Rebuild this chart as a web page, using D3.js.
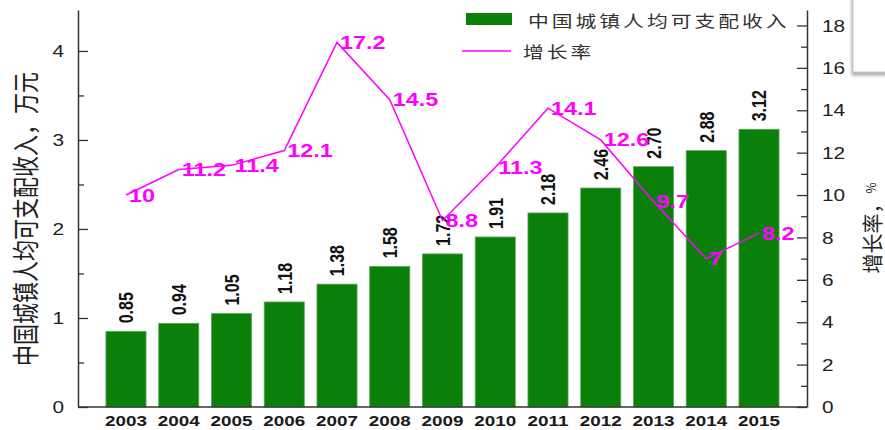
<!DOCTYPE html>
<html>
<head>
<meta charset="utf-8">
<script src="https://cdn.jsdelivr.net/npm/d3@7"></script>
<style>
  body { margin: 0; background: #fff; }
  svg { display: block; }
</style>
</head>
<body>
<div class="chart"></div>
<script>
// chart data
var years = ["2003", "2004", "2005", "2006", "2007", "2008", "2009", "2010", "2011", "2012", "2013", "2014", "2015"];
var income = [0.85, 0.94, 1.05, 1.18, 1.38, 1.58, 1.72, 1.91, 2.18, 2.46, 2.70, 2.88, 3.12];
var incomeLabels = ["0.85", "0.94", "1.05", "1.18", "1.38", "1.58", "1.72", "1.91", "2.18", "2.46", "2.70", "2.88", "3.12"];
var growth = [10, 11.2, 11.4, 12.1, 17.2, 14.5, 8.8, 11.3, 14.1, 12.6, 9.7, 7, 8.2];
var growthLabels = ["10", "11.2", "11.4", "12.1", "17.2", "14.5", "8.8", "11.3", "14.1", "12.6", "9.7", "7", "8.2"];
var leftTicks = [0, 1, 2, 3, 4];
var leftMinor = [0.5, 1.5, 2.5, 3.5];
var rightTicks = [0, 2, 4, 6, 8, 10, 12, 14, 16, 18];
var rightMinor = [1, 3, 5, 7, 9, 11, 13, 15, 17];

var svgWidth = 885;
var svgHeight = 430;

var plot = { left: 78, right: 807, top: 10, bottom: 407 };

// the reference picture is stretched sideways, so text gets the same stretch
var SX = 1.3;
var latin = "'Liberation Sans', Arial, sans-serif";
var cjk = "'Noto Sans CJK SC', 'Noto Sans', sans-serif";
var green = "#0a800a";
var magenta = "#ff00ff";

var svg = d3.select(".chart")
    .append("svg")
    .attr("width", svgWidth)
    .attr("height", svgHeight);

var defs = svg.append("defs");
var shadow = defs.append("filter").attr("id", "shadow")
    .attr("x", "-50%").attr("y", "-50%").attr("width", "200%").attr("height", "200%");
shadow.append("feDropShadow")
    .attr("dx", -1).attr("dy", 3).attr("stdDeviation", 1.5)
    .attr("flood-color", "#888").attr("flood-opacity", 0.7);

// scales
var xScale = d3.scaleBand()
    .domain(years)
    .range([plot.left, plot.right])
    .paddingInner(0.24)
    .paddingOuter(0.53);

var yLeft = d3.scaleLinear().domain([0, 4.46]).range([plot.bottom, plot.top]);
var yRight = d3.scaleLinear().domain([0, 18.73]).range([plot.bottom, plot.top]);

// bars
svg.append("g").selectAll("rect")
    .data(income)
    .enter()
    .append("rect")
    .attr("x", (d, i) => xScale(years[i]))
    .attr("y", d => yLeft(d))
    .attr("width", xScale.bandwidth())
    .attr("height", d => yLeft(0) - yLeft(d))
    .attr("fill", green)
    .attr("stroke", "#5aa85a")
    .attr("stroke-width", 0.8);

// bar value labels (rotated)
svg.append("g").selectAll("text")
    .data(income)
    .enter()
    .append("text")
    .attr("transform", (d, i) => `translate(${xScale(years[i]) + xScale.bandwidth() / 2}, ${yLeft(d) - 8}) scale(${SX},1) rotate(-90)`)
    .attr("text-anchor", "start")
    .attr("dominant-baseline", "central")
    .style("font-family", latin)
    .style("font-size", "16px")
    .style("font-weight", "bold")
    .attr("fill", "#111")
    .text((d, i) => incomeLabels[i]);

// axes
function styleAxis(g) {
    g.select(".domain").attr("stroke", "#333").attr("stroke-width", 1.5);
    g.selectAll(".tick line").attr("stroke", "#333").attr("stroke-width", 1.3);
}

var leftAxis = svg.append("g")
    .attr("transform", `translate(${plot.left},0)`)
    .call(d3.axisLeft(yLeft).tickValues(leftTicks).tickSize(-10).tickSizeOuter(0).tickFormat(d3.format("d")));
leftAxis.call(styleAxis);
leftAxis.selectAll(".tick text")
    .attr("x", null).attr("dy", null)
    .attr("transform", `translate(-14,0) scale(${SX},1)`)
    .attr("text-anchor", "end")
    .attr("dominant-baseline", "central")
    .style("font-family", latin)
    .style("font-size", "16px")
    .attr("fill", "#222");

svg.append("g")
    .attr("transform", `translate(${plot.left},0)`)
    .call(d3.axisLeft(yLeft).tickValues(leftMinor).tickSize(-6).tickSizeOuter(0).tickFormat(""))
    .call(styleAxis)
    .select(".domain").remove();

var rightAxis = svg.append("g")
    .attr("transform", `translate(${plot.right},0)`)
    .call(d3.axisRight(yRight).tickValues(rightTicks).tickSize(-10).tickSizeOuter(0).tickFormat(d3.format("d")));
rightAxis.call(styleAxis);
rightAxis.selectAll(".tick text")
    .attr("x", null).attr("dy", null)
    .attr("transform", `translate(15,0) scale(${SX},1)`)
    .attr("text-anchor", "start")
    .attr("dominant-baseline", "central")
    .style("font-family", latin)
    .style("font-size", "16px")
    .attr("fill", "#222");

svg.append("g")
    .attr("transform", `translate(${plot.right},0)`)
    .call(d3.axisRight(yRight).tickValues(rightMinor).tickSize(-6).tickSizeOuter(0).tickFormat(""))
    .call(styleAxis)
    .select(".domain").remove();

// bottom axis line, no ticks
var bottomAxis = svg.append("g")
    .attr("transform", `translate(0,${plot.bottom})`)
    .call(d3.axisBottom(xScale).tickSize(0).tickSizeOuter(0));
bottomAxis.select(".domain")
    .attr("d", `M${plot.left},0H${plot.right}`)
    .attr("stroke", "#333").attr("stroke-width", 1.5);
bottomAxis.selectAll(".tick text")
    .attr("y", null).attr("dy", null)
    .attr("transform", `translate(0,14.5) scale(${SX},1)`)
    .attr("dominant-baseline", "central")
    .style("font-family", latin)
    .style("font-size", "14.5px")
    .style("font-weight", "bold")
    .attr("fill", "#1a1a1a");

// growth line
var line = d3.line()
    .x((d, i) => xScale(years[i]) + xScale.bandwidth() / 2)
    .y(d => yRight(d));

svg.append("path")
    .datum(growth)
    .attr("d", line)
    .attr("fill", "none")
    .attr("stroke", magenta)
    .attr("stroke-width", 1.5);

svg.append("g").selectAll("text")
    .data(growth)
    .enter()
    .append("text")
    .attr("transform", (d, i) => `translate(${xScale(years[i]) + xScale.bandwidth() / 2 + 3}, ${yRight(d)}) scale(${SX},1)`)
    .attr("text-anchor", "start")
    .attr("dominant-baseline", "central")
    .style("font-family", latin)
    .style("font-size", "18px")
    .style("font-weight", "bold")
    .attr("fill", magenta)
    .text((d, i) => growthLabels[i]);

// axis titles
svg.append("text")
    .attr("transform", `translate(24, 219) scale(${SX},1) rotate(-90)`)
    .attr("text-anchor", "middle")
    .attr("dominant-baseline", "central")
    .style("font-family", cjk)
    .style("font-size", "21px")
    .attr("fill", "#222")
    .text("中国城镇人均可支配收入，万元");

var rightTitle = svg.append("text")
    .attr("transform", `translate(871, 228) scale(1.05,1) rotate(-90)`)
    .attr("text-anchor", "middle")
    .attr("dominant-baseline", "central")
    .style("font-family", cjk)
    .style("font-size", "20px")
    .attr("fill", "#222");
rightTitle.append("tspan").text("增长率，");
rightTitle.append("tspan").style("font-size", "12px").text("%");

// legend
var legend = svg.append("g");
legend.append("rect")
    .attr("x", 466).attr("y", 13)
    .attr("width", 46).attr("height", 12)
    .attr("fill", green);
legend.append("line")
    .attr("x1", 462).attr("x2", 511)
    .attr("y1", 51).attr("y2", 51)
    .attr("stroke", magenta)
    .attr("stroke-width", 1.5);
legend.append("text")
    .attr("transform", `translate(528, 20) scale(${SX},1)`)
    .attr("dominant-baseline", "central")
    .style("font-family", cjk)
    .style("font-size", "16px")
    .style("letter-spacing", "2.3px")
    .attr("fill", "#333")
    .text("中国城镇人均可支配收入");
legend.append("text")
    .attr("transform", `translate(523, 51) scale(${SX},1)`)
    .attr("dominant-baseline", "central")
    .style("font-family", cjk)
    .style("font-size", "16px")
    .style("letter-spacing", "2.3px")
    .attr("fill", "#333")
    .text("增长率");

// cut-off box in the top right corner
svg.append("rect")
    .attr("x", 853).attr("y", -10)
    .attr("width", 60).attr("height", 82)
    .attr("fill", "#fff")
    .attr("stroke", "#c8c8c8")
    .attr("filter", "url(#shadow)");
</script>
</body>
</html>
